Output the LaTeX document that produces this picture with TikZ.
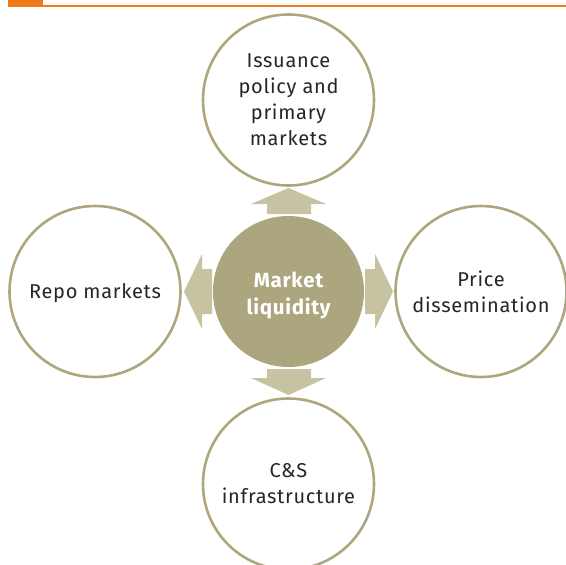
\documentclass[tikz,border=0pt]{standalone}
\usepackage{fontspec}
\setmainfont{Fira Sans}[LetterSpace=3.5]
\definecolor{rim}{HTML}{ADA67E}
\definecolor{hub}{HTML}{ACA67E}
\definecolor{pale}{HTML}{C6C2A2}
\definecolor{accent}{HTML}{EE7A1A}
\begin{document}
\begin{tikzpicture}[x=1pt,y=-1pt,
  satellite/.style={circle,draw=rim,line width=2.6pt,fill=white,minimum size=171pt,
    inner sep=0pt,align=center,font=\fontsize{20}{26}\selectfont,text=black!85},
  satlabel/.style={align=center,font=\fontsize{20}{26}\selectfont,text=black!85},
  hubnode/.style={circle,fill=hub,minimum size=151pt,inner sep=0pt},
  hublabel/.style={align=center,font=\fontsize{20.5}{26.5}\selectfont\bfseries,text=white},
  flow/.style={fill=pale}]
\useasboundingbox (0,0) rectangle (566,565);
% header rule
\fill[accent] (8,0) rectangle (43,7);
\fill[accent] (8,5) rectangle (566,7.3);
% circles
\node[satellite] (top) at (288.5,100) {Issuance\\policy and\\primary\\markets};
\node[satellite] (left) at (95,291.5) {};
\node[satlabel] (lefttext) at ([yshift=-2pt]left.center) {Repo markets};
\node[satellite] (right) at (481,291.5) {Price\\dissemination};
\node[satellite] (bottom) at (288.5,484) {C\&S\\infrastructure};
\node[hubnode] (hub) at (288.5,291.5) {};
\node[hublabel] (hubtext) at ([yshift=-4pt]hub.center) {Market\\liquidity};
% block arrows from the hub
\fill[flow] (267,214) -- (267,204) -- (251,204) -- (288.5,188) -- (326,204) -- (311,204) -- (311,214) -- cycle;
\fill[flow] (267,369) -- (267,378) -- (251,378) -- (288.5,395) -- (326,378) -- (311,378) -- (311,369) -- cycle;
\fill[flow] (212,269) -- (202,269) -- (202,254) -- (184,291.5) -- (202,329) -- (202,314) -- (212,314) -- cycle;
\fill[flow] (365,269) -- (375,269) -- (375,254) -- (393,291.5) -- (375,329) -- (375,314) -- (365,314) -- cycle;
\end{tikzpicture}
\end{document}
